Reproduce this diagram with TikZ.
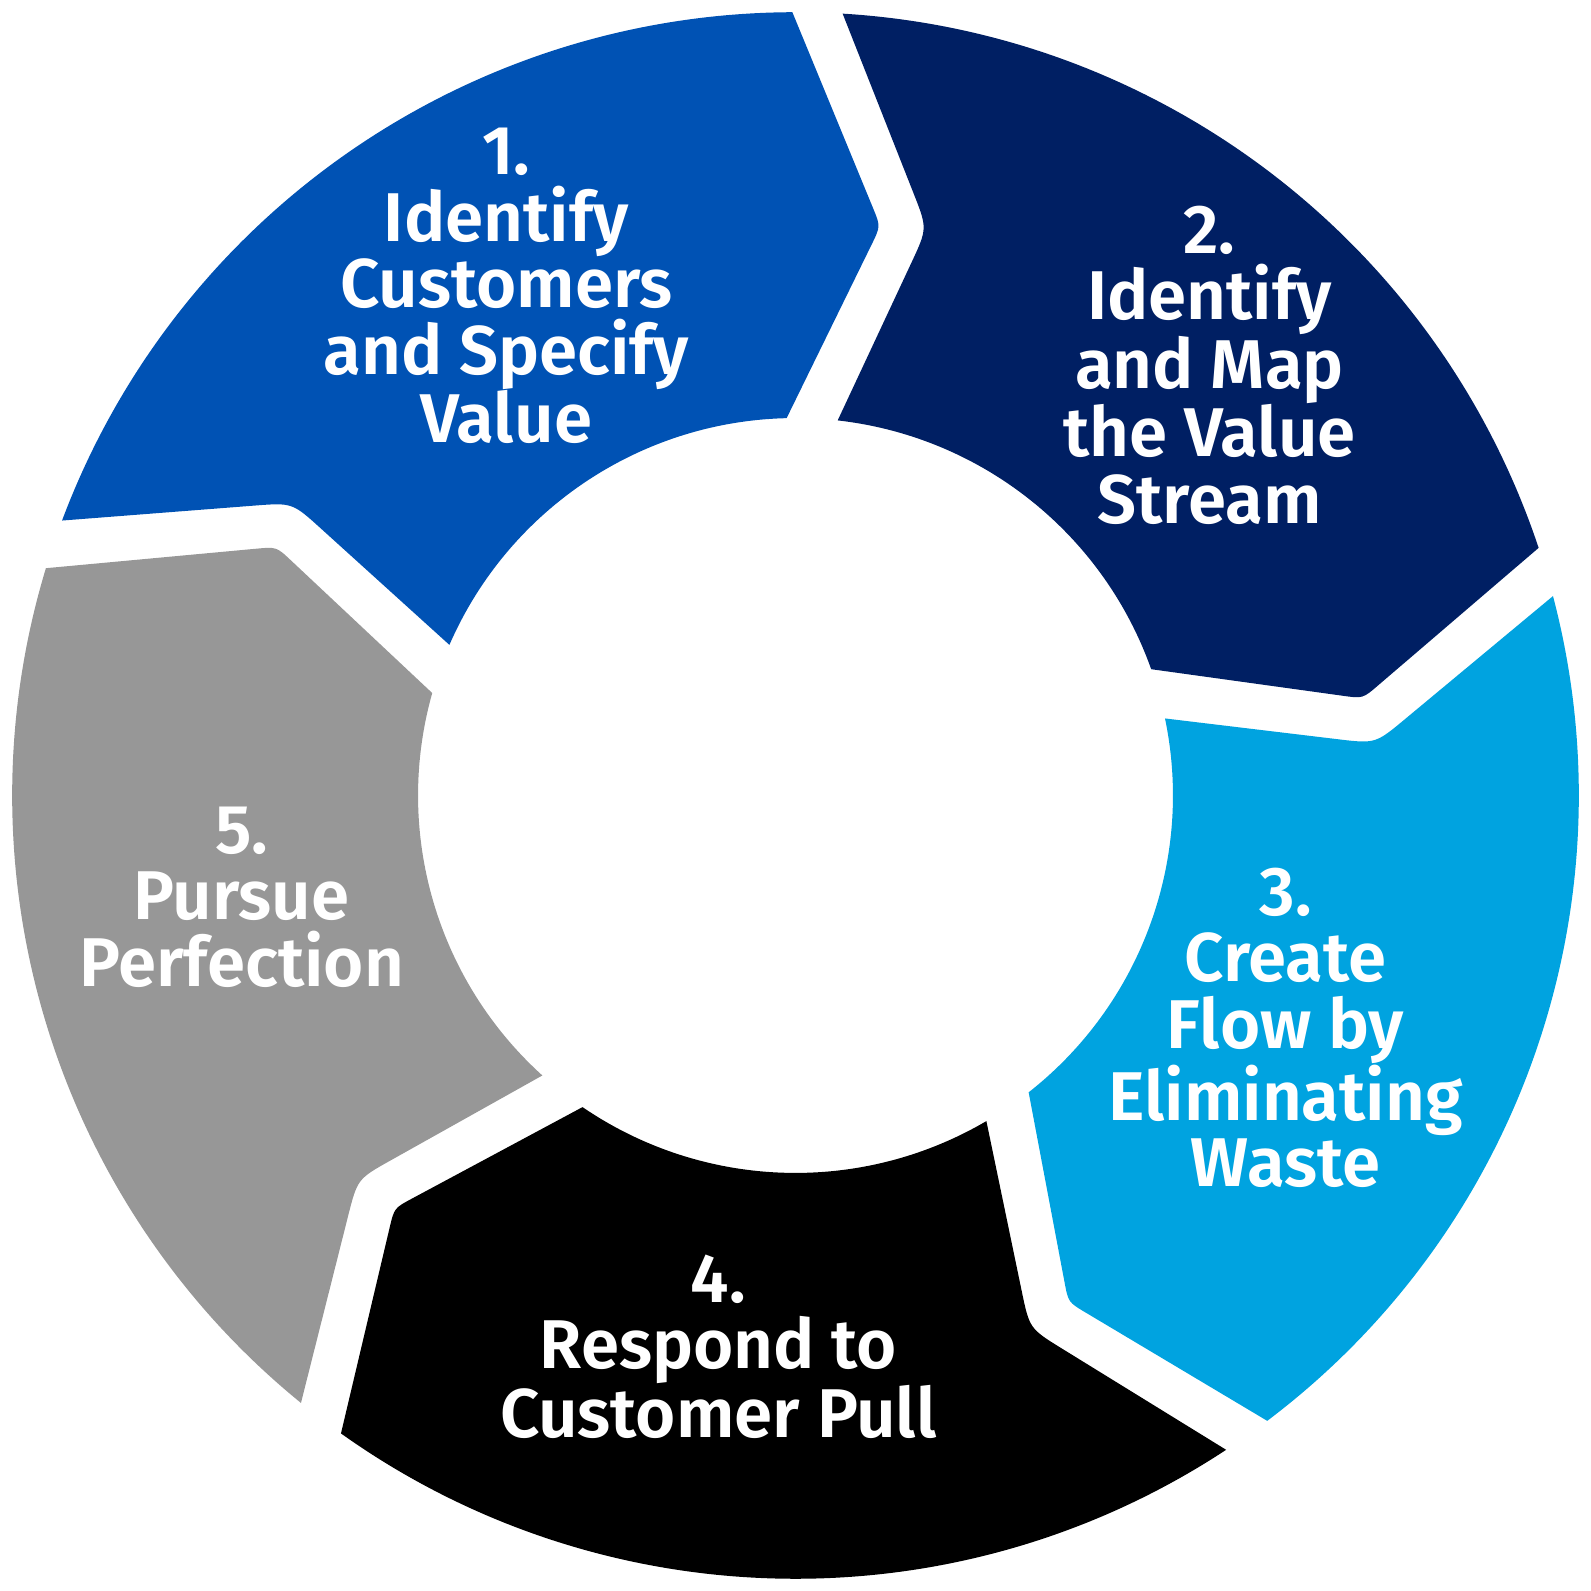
\documentclass[tikz,border=0pt]{standalone}
\usepackage{fontspec}
\setmainfont{Fira Sans}[BoldFont={Fira Sans SemiBold}]
\usetikzlibrary{calc}
\definecolor{segA}{HTML}{0052B4}
\definecolor{segB}{HTML}{001F63}
\definecolor{segC}{HTML}{00A3E0}
\definecolor{segD}{HTML}{000000}
\definecolor{segE}{HTML}{979797}
% #1 tail boundary angle, #2 head boundary angle, #3 colour
\newcommand\ringseg[3]{%
  \pgfmathsetmacro\tA{#1}%
  \pgfmathsetmacro\hA{#2}%
  \coordinate (oT) at (\tA-1.85:772);
  \coordinate (oH) at (\hA+1.83:772);
  \coordinate (tip) at (\hA-6.9:567.2);
  \coordinate (iH) at (\hA+2.95:372);
  \coordinate (iT) at (\tA-4.82:372);
  \coordinate (nt) at (\tA-11.5:573.8);
  \fill[#3] (oT) arc[start angle=\tA-1.85, end angle=\hA+1.83, radius=772]
    -- ($(tip)!20pt!(oH)$) .. controls (tip) .. ($(tip)!20pt!(iH)$)
    -- (iH) arc[start angle=\hA+2.95, end angle=\tA-4.82, radius=372]
    -- ($(nt)!38pt!(iT)$) .. controls (nt) .. ($(nt)!38pt!(oT)$) -- cycle;
}
\tikzset{lbl/.style={text=white, align=center, font=\bfseries\fontsize{68}{65.5}\selectfont}}
\begin{document}
\begin{tikzpicture}[x=1pt,y=1pt]
\useasboundingbox (-784,-784) rectangle (784,784);
\ringseg{161.3}{88.4}{segA}
\ringseg{88.4}{16.6}{segB}
\ringseg{16.6}{-54.8}{segC}
\ringseg{-54.8}{-127.3}{segD}
\ringseg{232.7}{161.3}{segE}
\node[lbl] (t1) at (-285,502) {1.\\Identify\\Customers\\and Specify\\Value};
\node[lbl] (t2) at (408,424) {2.\\Identify\\and Map\\the Value\\Stream};
\node[lbl] (t3) at (483,-229) {3.\\Create\\Flow by\\Eliminating\\Waste};
\node[lbl] (t4) at (-76,-543) {4.\\Respond to\\Customer Pull};
\node[lbl] (t5) at (-546,-100) {5.\\Pursue\\Perfection};
\end{tikzpicture}
\end{document}
